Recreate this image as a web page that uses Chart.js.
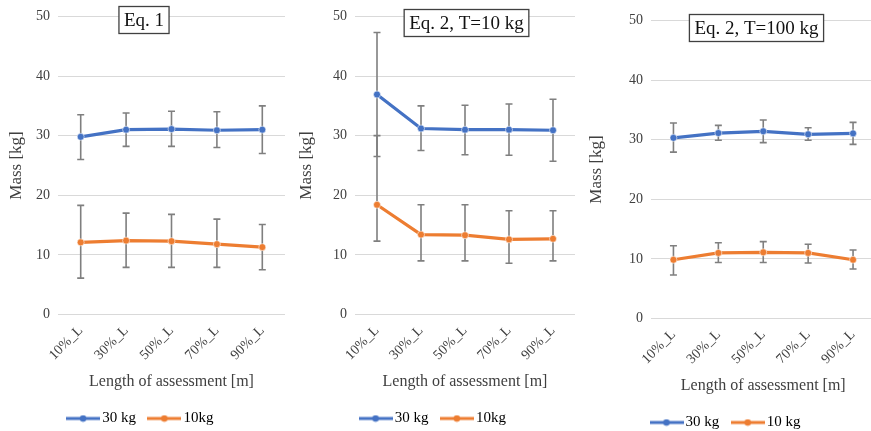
<!DOCTYPE html>
<html>
<head>
<meta charset="utf-8">
<script src="https://cdn.jsdelivr.net/npm/chart.js@4.4.0/dist/chart.umd.min.js"></script>
<style>
  html, body { margin: 0; padding: 0; background: #fff; width: 871px; height: 431px; overflow: hidden; position: relative; }
  .panel { position: absolute; top: 0; height: 436px; }
</style>
</head>
<body>
<div class="panel" style="left:0;width:290px"><canvas id="eq1"></canvas></div>
<div class="panel" style="left:290px;width:290px"><canvas id="eq2t10"></canvas></div>
<div class="panel" style="left:580px;top:3.5px;width:314px"><canvas id="eq2t100"></canvas></div>
<script>
const categories = ["10%_L", "30%_L", "50%_L", "70%_L", "90%_L"];

// Eq. 1
const eq1Mass30 = [29.8, 31.0, 31.1, 30.9, 31.0];
const eq1Hi30 = [33.5, 33.8, 34.1, 34.0, 35.0];
const eq1Lo30 = [26.0, 28.2, 28.2, 28.0, 27.0];
const eq1Mass10 = [12.1, 12.4, 12.3, 11.8, 11.3];
const eq1Hi10 = [18.3, 17.0, 16.8, 16.0, 15.1];
const eq1Lo10 = [6.1, 7.9, 7.9, 7.9, 7.5];

// Eq. 2, T=10 kg
const t10Mass30 = [36.9, 31.2, 31.0, 31.0, 30.9];
const t10Hi30 = [47.3, 35.0, 35.1, 35.3, 36.1];
const t10Lo30 = [26.5, 27.5, 26.8, 26.7, 25.7];
const t10Mass10 = [18.4, 13.4, 13.3, 12.6, 12.7];
const t10Hi10 = [30.0, 18.4, 18.4, 17.4, 17.4];
const t10Lo10 = [12.3, 9.0, 9.0, 8.6, 9.0];

// Eq. 2, T=100 kg
const t100Mass30 = [30.3, 31.1, 31.4, 30.9, 31.05];
const t100Hi30 = [32.8, 32.4, 33.3, 32.0, 32.9];
const t100Lo30 = [27.9, 29.9, 29.5, 29.9, 29.2];
const t100Mass10 = [9.85, 11.0, 11.1, 11.0, 9.85];
const t100Hi10 = [12.2, 12.7, 12.9, 12.45, 11.5];
const t100Lo10 = [7.3, 9.4, 9.4, 9.3, 8.3];

const BLUE = "#4472C4";
const ORANGE = "#ED7D31";
const SERIF = "'Liberation Serif', 'Times New Roman', serif";
const TEXT = "#404040";

// little line-dot-line glyph used in the legend
function legendMarker(color) {
  let c = document.createElement("canvas");
  c.width = 34; c.height = 8;
  let g = c.getContext("2d");
  g.strokeStyle = color;
  g.lineWidth = 3;
  g.beginPath(); g.moveTo(0, 4); g.lineTo(34, 4); g.stroke();
  g.fillStyle = color;
  g.beginPath(); g.arc(17, 4, 3.3, 0, Math.PI * 2); g.fill();
  return c;
}

// vertical error bars with caps, taken from dataset.errHi / dataset.errLo
const errorBars = {
  id: "errorBars",
  beforeDatasetsDraw(chart) {
    let ctx = chart.ctx;
    let x = chart.scales.x, y = chart.scales.y;
    ctx.save();
    ctx.strokeStyle = "#7f7f7f";
    ctx.lineWidth = 1.6;
    chart.data.datasets.forEach(ds => {
      ds.data.forEach((v, i) => {
        let px = x.getPixelForValue(i);
        let top = y.getPixelForValue(ds.errHi[i]);
        let bot = y.getPixelForValue(ds.errLo[i]);
        ctx.beginPath();
        ctx.moveTo(px, top); ctx.lineTo(px, bot);
        ctx.moveTo(px - 3.5, top); ctx.lineTo(px + 3.5, top);
        ctx.moveTo(px - 3.5, bot); ctx.lineTo(px + 3.5, bot);
        ctx.stroke();
      });
    });
    ctx.restore();
  }
};

// boxed label in the upper part of each panel
const boxLabel = {
  id: "boxLabel",
  afterDraw(chart, args, opts) {
    if (!opts.text) return;
    let ctx = chart.ctx;
    ctx.save();
    ctx.font = "19px " + SERIF;
    let w = ctx.measureText(opts.text).width + 10;
    let h = 27;
    let left = opts.cx - w / 2, top = opts.cy - h / 2;
    ctx.fillStyle = "#fff";
    ctx.fillRect(left, top, w, h);
    ctx.strokeStyle = "#404040";
    ctx.lineWidth = 1.3;
    ctx.strokeRect(left, top, w, h);
    ctx.fillStyle = "#111";
    ctx.textAlign = "center";
    ctx.textBaseline = "middle";
    ctx.fillText(opts.text, opts.cx, opts.cy + 1);
    ctx.restore();
  }
};

function makeDataset(label, data, hi, lo, color) {
  return {
    label,
    data,
    errHi: hi,
    errLo: lo,
    legendMarker: legendMarker(color),
    borderColor: color,
    backgroundColor: color,
    borderWidth: 3.2,
    tension: 0,
    pointRadius: 3.5,
    pointBorderWidth: 1,
    pointBorderColor: "rgba(255,255,255,0.55)",
    pointBackgroundColor: color
  };
}

function makePanel(canvasId, title, boxPos, yWidth, padRight, datasets) {
  let ctx = document.getElementById(canvasId).getContext("2d");
  return new Chart(ctx, {
    type: "line",
    data: { labels: categories, datasets: datasets },
    plugins: [errorBars, boxLabel],
    options: {
      responsive: true,
      maintainAspectRatio: false,
      animation: false,
      layout: { padding: { top: 15.7, right: padRight, bottom: 0, left: 0 } },
      plugins: {
        tooltip: { enabled: false },
        boxLabel: { text: title, cx: boxPos[0], cy: boxPos[1] },
        legend: {
          position: "bottom",
          labels: {
            usePointStyle: true,
            pointStyleWidth: 23,
            padding: 17,
            color: TEXT,
            font: { family: SERIF, size: 15 },
            generateLabels: chart => chart.data.datasets.map((ds, i) => ({
              text: ds.label,
              fillStyle: ds.borderColor,
              strokeStyle: ds.borderColor,
              lineWidth: 0,
              pointStyle: ds.legendMarker,
              datasetIndex: i,
              hidden: false
            }))
          }
        }
      },
      scales: {
        x: {
          offset: true,
          afterFit: s => { s.height = 79.5; },
          grid: { display: false, offset: true },
          border: { display: false },
          ticks: {
            color: TEXT,
            font: { family: SERIF, size: 14 },
            minRotation: 45,
            maxRotation: 45,
            padding: 0
          },
          title: {
            display: true,
            text: "Length of assessment [m]",
            color: TEXT,
            font: { family: SERIF, size: 16 },
            padding: { top: 4, bottom: 3 }
          }
        },
        y: {
          min: 0,
          max: 50,
          afterFit: s => { s.width = yWidth; },
          grid: { color: "#d9d9d9", drawTicks: false },
          border: { display: false },
          ticks: {
            stepSize: 10,
            color: TEXT,
            font: { family: SERIF, size: 14 },
            padding: 8
          },
          title: {
            display: true,
            text: "Mass [kg]",
            color: TEXT,
            font: { family: SERIF, size: 17 },
            padding: { top: 6, bottom: 0 }
          }
        }
      }
    }
  });
}

makePanel("eq1", "Eq. 1", [144, 20], 58, 5, [
  makeDataset("30 kg", eq1Mass30, eq1Hi30, eq1Lo30, BLUE),
  makeDataset("10kg", eq1Mass10, eq1Hi10, eq1Lo10, ORANGE)
]);

makePanel("eq2t10", "Eq. 2, T=10 kg", [176.5, 23], 65, 0, [
  makeDataset("30 kg", t10Mass30, t10Hi30, t10Lo30, BLUE),
  makeDataset("10kg", t10Mass10, t10Hi10, t10Lo10, ORANGE)
]);

makePanel("eq2t100", "Eq. 2, T=100 kg", [176.5, 24], 71, 18.5, [
  makeDataset("30 kg", t100Mass30, t100Hi30, t100Lo30, BLUE),
  makeDataset("10 kg", t100Mass10, t100Hi10, t100Lo10, ORANGE)
]);
</script>
</body>
</html>
